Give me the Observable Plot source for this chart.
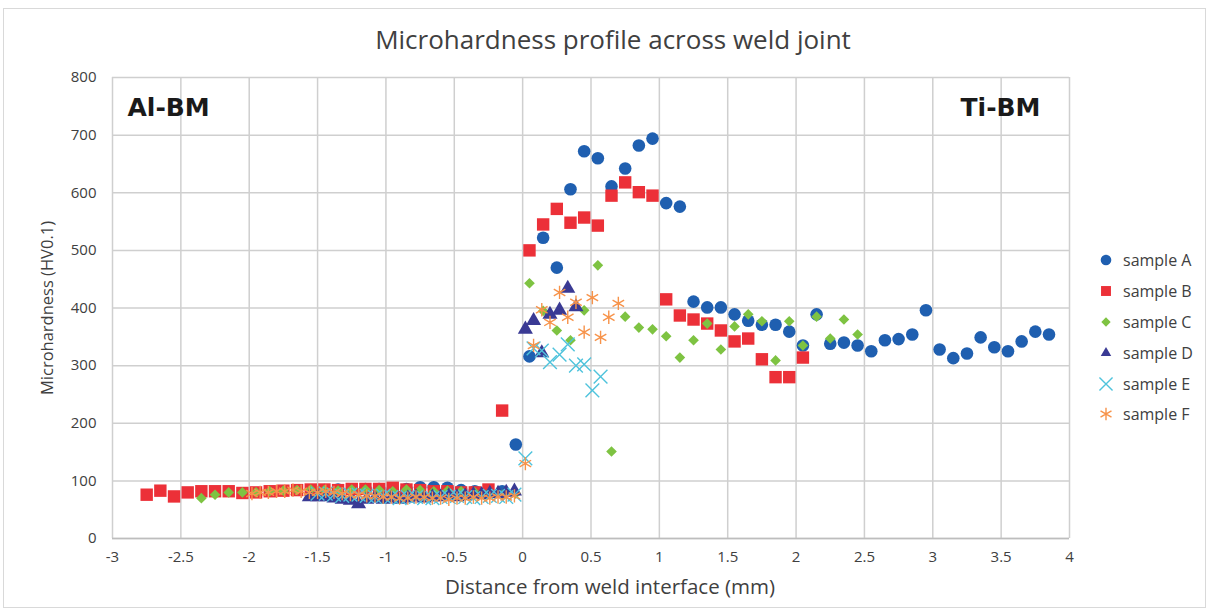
<!DOCTYPE html>
<html><head><meta charset="utf-8">
<script src="https://cdn.jsdelivr.net/npm/d3@7"></script>
<script src="https://cdn.jsdelivr.net/npm/@observablehq/plot@0.6"></script>
<style>
body{margin:0;background:#fff;font-family:"Open Sans",Lato,sans-serif;}
#wrap{position:relative;width:1209px;height:612px;overflow:hidden}
#border{position:absolute;left:3px;top:8px;width:1203px;height:600px;border:1px solid #d9d9d9;box-sizing:border-box;pointer-events:none}
#legend{position:absolute;left:1098px;top:245px;font-size:16px;color:#404040;font-family:"Open Sans",Lato,sans-serif}
#legend .row{height:30.8px;display:flex;align-items:center}
#legend svg{margin-right:9px}
</style></head><body><div id="wrap"><div id="border"></div></div>
<script>
const title = "Microhardness profile across weld joint";
const xLabel = "Distance from weld interface (mm)";
const yLabel = "Microhardness (HV0.1)";
const leftTag = "Al-BM";
const rightTag = "Ti-BM";
const xTicks = [-3,-2.5,-2,-1.5,-1,-0.5,0,0.5,1,1.5,2,2.5,3,3.5,4];
const yTicks = [0,100,200,300,400,500,600,700,800];
const seriesNames = ["sample A","sample B","sample C","sample D","sample E","sample F"];

const aX = [-1.45,-1.35,-1.25,-1.15,-1.05,-0.95,-0.85,-0.75,-0.65,-0.55,-0.45,-0.35,-0.25,-0.15,
  -0.05,0.05,0.15,0.25,0.35,0.45,0.55,0.65,0.75,0.85,0.95,1.05,1.15,1.25,1.35,1.45,1.55,1.65,1.75,1.85,1.95,
  2.05,2.15,2.25,2.35,2.45,2.55,2.65,2.75,2.85,2.95,3.05,3.15,3.25,3.35,3.45,3.55,3.65,3.75,3.85];
const aY = [84,85,84,86,86,85,86,89,89,88,84,82,80,82,
  163,316,522,470,606,672,660,611,642,682,694,582,576,411,401,401,389,378,371,371,359,
  335,389,338,340,335,325,344,346,354,396,328,313,321,349,332,325,342,359,354];

const bX = [-2.75,-2.65,-2.55,-2.45,-2.35,-2.25,-2.15,-2.05,-1.95,-1.85,-1.75,-1.65,-1.55,-1.45,-1.35,-1.25,-1.15,-1.05,-0.95,-0.85,-0.75,-0.65,-0.55,-0.45,-0.35,-0.25,-0.15,
  0.05,0.15,0.25,0.35,0.45,0.55,0.65,0.75,0.85,0.95,1.05,1.15,1.25,1.35,1.45,1.55,1.65,1.75,1.85,1.95,2.05];
const bY = [76,83,73,80,82,82,82,79,80,82,83,84,85,85,84,86,86,86,88,85,84,82,82,80,80,85,222,
  500,545,572,548,557,543,595,618,601,595,415,387,380,373,361,342,347,311,280,280,314];

const cX = [-2.35,-2.25,-2.15,-2.05,-1.95,-1.85,-1.75,-1.65,-1.55,-1.45,-1.35,-1.25,-1.15,-1.05,-0.95,-0.85,-0.75,-0.65,-0.55,-0.45,-0.35,-0.25,-0.15,-0.05,
  0.05,0.15,0.25,0.35,0.45,0.55,0.65,0.75,0.85,0.95,1.05,1.15,1.25,1.35,1.45,1.55,1.65,1.75,1.85,1.95,2.05,2.15,2.25,2.35,2.45];
const cY = [70,76,80,80,80,82,83,84,85,84,83,85,85,84,82,85,84,82,83,82,80,78,76,78,
  443,395,361,344,396,474,151,385,366,363,351,314,344,373,328,368,389,377,309,377,335,385,347,380,354];

const dX = [-1.56,-1.5,-1.44,-1.38,-1.32,-1.26,-1.2,-1.14,-1.08,-1.02,-0.96,-0.9,-0.84,-0.78,-0.72,-0.66,-0.6,-0.54,-0.48,-0.42,-0.36,-0.3,-0.24,-0.18,-0.12,-0.06,
  0.02,0.08,0.14,0.2,0.27,0.33,0.39];
const dY = [72,72,72,70,68,66,60,68,70,68,70,68,70,72,70,72,72,74,72,74,76,76,78,78,80,82,
  363,378,322,389,396,434,402];

const eX = [-1.5,-1.44,-1.38,-1.32,-1.26,-1.2,-1.14,-1.08,-1.02,-0.96,-0.9,-0.84,-0.78,-0.72,-0.66,-0.6,-0.54,-0.48,-0.42,-0.36,-0.3,-0.24,-0.18,-0.12,-0.06,
  0.02,0.08,0.14,0.2,0.27,0.33,0.39,0.45,0.51,0.57];
const eY = [78,78,76,74,76,76,74,72,74,72,70,72,72,70,70,72,72,74,72,70,72,74,74,72,76,
  139,330,326,306,319,337,300,302,257,281];

const fX = [-1.98,-1.92,-1.86,-1.8,-1.74,-1.68,-1.62,-1.56,-1.5,-1.44,-1.38,-1.32,-1.26,-1.2,-1.14,-1.08,-1.02,-0.96,-0.9,-0.84,-0.78,-0.72,-0.66,-0.6,-0.54,-0.48,-0.42,-0.36,-0.3,-0.24,-0.18,-0.12,-0.06,
  0.02,0.08,0.14,0.2,0.27,0.33,0.39,0.45,0.51,0.57,0.63,0.7];
const fY = [78,80,80,82,82,84,82,80,80,82,80,78,76,76,74,74,72,72,70,70,72,72,70,70,68,70,70,72,70,70,72,72,74,
  130,335,397,375,427,384,410,358,418,349,384,408];

const colors = ["#1f5fb0","#ec3038","#7ec342","#3a3a94","#4ec3dc","#f7934a"];
const symbols = ["circle","square","diamond2","triangle","times","asterisk"];
const radii = [6.3,7,4.8,5.6,6.3,6.3];
const filled = [true,true,true,true,false,false];

const seriesX = [aX,bX,cX,dX,eX,fX];
const seriesY = [aY,bY,cY,dY,eY,fY];
const tables = seriesX.map((xs,i)=>xs.map((x,j)=>({x, y: seriesY[i][j]})));

const font = "'Open Sans', Lato, sans-serif";
const dotMarks = tables.map((t,i)=> filled[i]
  ? Plot.dot(t,{x:"x",y:"y",symbol:()=>symbols[i],fill:colors[i],r:radii[i],stroke:"none"})
  : Plot.dot(t,{x:"x",y:"y",symbol:()=>symbols[i],stroke:colors[i],r:radii[i],strokeWidth:1.4,fill:"none"}));

const chart = Plot.plot({
  width:1209, height:612,
  marginTop:77, marginLeft:112, marginRight:140, marginBottom:74,
  style:{fontFamily:font, background:"transparent"},
  x:{domain:[-3,4]},
  y:{domain:[0,800]},
  symbol:{type:"identity"},
  marks:[
    Plot.gridX(xTicks,{stroke:"#cfcfcf",strokeOpacity:1,strokeWidth:1.5}),
    Plot.gridY(yTicks,{stroke:"#cfcfcf",strokeOpacity:1,strokeWidth:1.5}),
    Plot.ruleY([0],{stroke:"#bdbdbd",strokeWidth:1.5}),
    Plot.axisX(xTicks,{tickSize:0,tickPadding:13,fontSize:15,fill:"#404040",label:null,tickFormat:d=>String(d)}),
    Plot.axisY(yTicks,{tickSize:0,tickPadding:16,fontSize:15,fill:"#404040",label:null,tickFormat:d=>String(d)}),
    Plot.text([xLabel],{text:d=>d,frameAnchor:"bottom",dx:19,dy:49,lineAnchor:"middle",textAnchor:"middle",fontSize:20.5,fill:"#404040"}),
    Plot.text([yLabel],{text:d=>d,frameAnchor:"left",dx:-65,rotate:-90,textAnchor:"middle",lineAnchor:"middle",fontSize:16.5,fill:"#404040"}),
    Plot.text([title],{text:d=>d,frameAnchor:"top",dx:22,dy:-37,lineAnchor:"middle",textAnchor:"middle",fontSize:26,fill:"#404040"}),
    Plot.text([leftTag],{text:d=>d,frameAnchor:"top-left",dx:15,dy:30,fontSize:25,fontWeight:"bold",fill:"#1a1a1a",fontFamily:"'DejaVu Sans', 'Liberation Sans', sans-serif",textAnchor:"start",lineAnchor:"middle"}),
    Plot.text([rightTag],{text:d=>d,frameAnchor:"top-right",dx:-29,dy:30,fontSize:25,fontWeight:"bold",fill:"#1a1a1a",fontFamily:"'DejaVu Sans', 'Liberation Sans', sans-serif",textAnchor:"end",lineAnchor:"middle"}),
    ...dotMarks
  ]
});
const wrap = document.getElementById("wrap");
chart.style.position = "absolute"; chart.style.left = "0"; chart.style.top = "0";
wrap.appendChild(chart);

// legend
const legend = document.createElement("div");
legend.id = "legend";
const d3sym = {circle:d3.symbolCircle,square:d3.symbolSquare,diamond2:d3.symbolDiamond2,triangle:d3.symbolTriangle2,times:d3.symbolTimes,asterisk:d3.symbolAsterisk};
const legendR = [5.3,5.6,4.2,5,6,6];
seriesNames.forEach((name,i)=>{
  const row = document.createElement("div"); row.className="row";
  const svg = d3.create("svg").attr("width",16).attr("height",16);
  const path = svg.append("path").attr("transform","translate(8,8)")
    .attr("d", d3.symbol(d3sym[symbols[i]], Math.PI*Math.pow(legendR[i],2))());
  if (filled[i]) path.attr("fill",colors[i]); else path.attr("fill","none").attr("stroke",colors[i]).attr("stroke-width",1.4);
  row.appendChild(svg.node());
  const span = document.createElement("span"); span.textContent = name; row.appendChild(span);
  legend.appendChild(row);
});
wrap.appendChild(legend);
</script></body></html>
